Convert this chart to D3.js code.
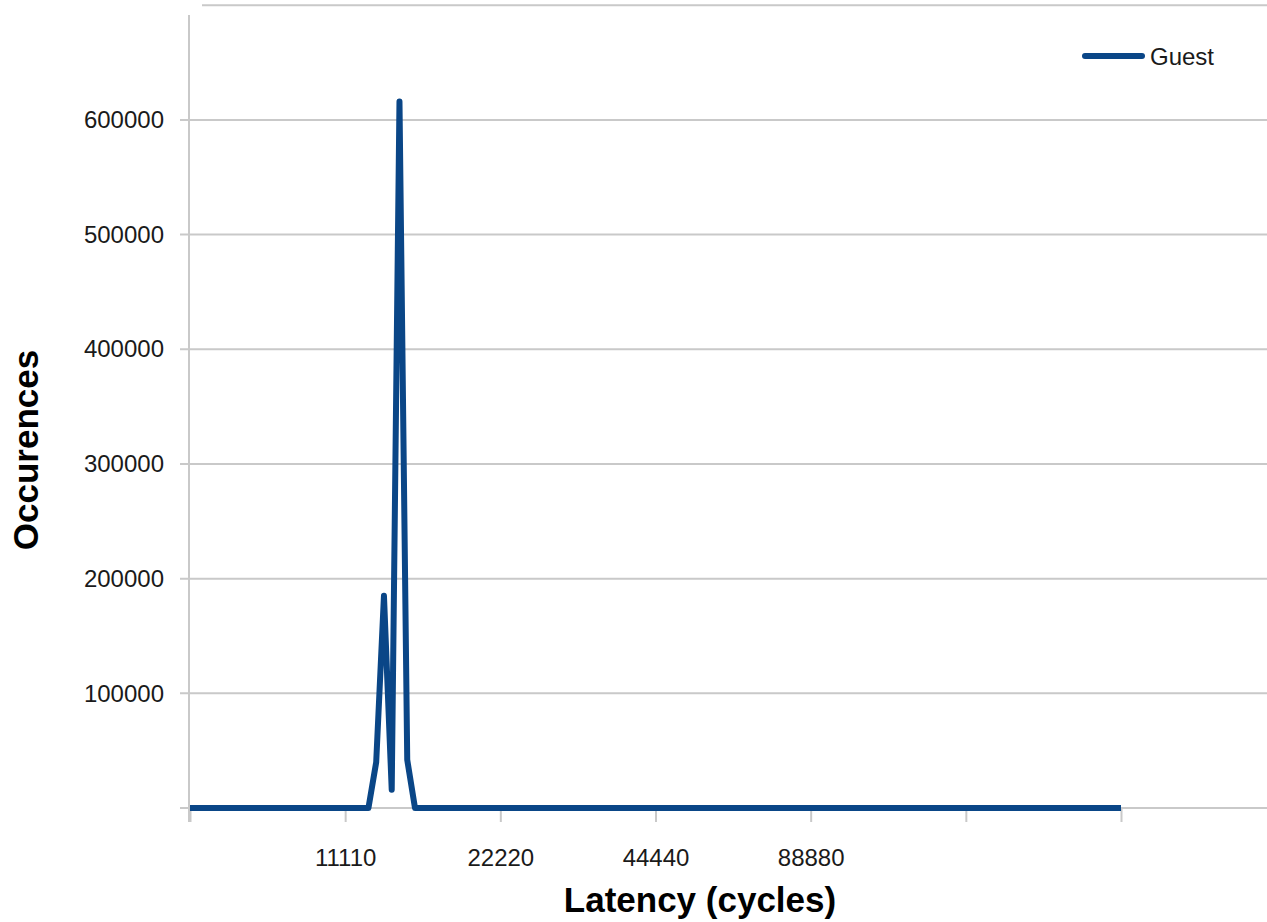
<!DOCTYPE html>
<html>
<head>
<meta charset="utf-8">
<script src="https://cdn.jsdelivr.net/npm/d3@7/dist/d3.min.js"></script>
<style>
  html, body { margin: 0; padding: 0; background: #fff; }
  svg { display: block; font-family: "Liberation Sans", Arial, sans-serif; }
</style>
</head>
<body>
<svg id="chart" width="1267" height="922"></svg>
<script>
// Latency histogram: one point per bucket, 121 buckets
const bucketIndex = d3.range(0, 121);
const guestPeak = { 24: 40000, 25: 185000, 26: 16000, 27: 616000, 28: 42000 };
const guestCounts = bucketIndex.map(i => guestPeak[i] || 0);

const xTickValues = [0, 20, 40, 60, 80, 100, 120];
const xTickLabels = ["", "11110", "22220", "44440", "88880", "", ""];
const yTickValues = [0, 100000, 200000, 300000, 400000, 500000, 600000, 700000];
const yTickLabels = ["", "100000", "200000", "300000", "400000", "500000", "600000", ""];

const seriesName = "Guest";
const seriesColor = "#0a4687";
const gridColor = "#c9c9c9";
const textColor = "#1a1a1a";

const svg = d3.select("#chart");
const W = 1267;

const x = d3.scaleLinear().domain([0, 120]).range([190, 1121]);
const y = d3.scaleLinear().domain([0, 700000]).range([808, 5.2]);

// horizontal gridlines
svg.append("g")
  .selectAll("line")
  .data(yTickValues)
  .join("line")
  .attr("x1", d => d === 700000 ? 202 : 180)
  .attr("x2", W)
  .attr("y1", d => y(d))
  .attr("y2", d => y(d))
  .attr("stroke", gridColor)
  .attr("stroke-width", 2);

// vertical axis line
svg.append("line")
  .attr("x1", 189).attr("x2", 189)
  .attr("y1", 15).attr("y2", 822)
  .attr("stroke", gridColor)
  .attr("stroke-width", 2);

// y axis labels
const yAxis = d3.axisLeft(y)
  .tickValues(yTickValues)
  .tickSize(0)
  .tickPadding(0)
  .tickFormat((d, i) => yTickLabels[i]);
const gy = svg.append("g").attr("transform", "translate(164,0)").call(yAxis);
gy.select(".domain").remove();
gy.selectAll("text")
  .attr("font-size", 24)
  .attr("font-family", "'Liberation Sans', Arial, sans-serif")
  .attr("fill", textColor);

// x axis ticks and labels
const xAxis = d3.axisBottom(x)
  .tickValues(xTickValues)
  .tickSize(14)
  .tickPadding(27)
  .tickFormat((d, i) => xTickLabels[i]);
const gx = svg.append("g").attr("transform", "translate(0,808)").call(xAxis);
gx.select(".domain").remove();
gx.selectAll(".tick line").attr("stroke", gridColor).attr("stroke-width", 2);
gx.selectAll("text")
  .attr("font-size", 24)
  .attr("font-family", "'Liberation Sans', Arial, sans-serif")
  .attr("fill", textColor);

// series line
const line = d3.line()
  .x((d, i) => x(bucketIndex[i]))
  .y(d => y(d));
svg.append("path")
  .datum(guestCounts)
  .attr("d", line)
  .attr("fill", "none")
  .attr("stroke", seriesColor)
  .attr("stroke-width", 6)
  .attr("stroke-linejoin", "round")
  .attr("stroke-linecap", "butt");

// axis titles
svg.append("text")
  .attr("x", 700).attr("y", 912)
  .attr("text-anchor", "middle")
  .attr("font-size", 35).attr("font-weight", "bold")
  .attr("fill", "#000")
  .text("Latency (cycles)");

svg.append("text")
  .attr("transform", "translate(38,450) rotate(-90)")
  .attr("text-anchor", "middle")
  .attr("font-size", 35).attr("font-weight", "bold")
  .attr("fill", "#000")
  .text("Occurences");

// legend
const legend = svg.append("g");
legend.append("line")
  .attr("x1", 1085).attr("x2", 1142)
  .attr("y1", 56).attr("y2", 56)
  .attr("stroke", seriesColor)
  .attr("stroke-width", 6)
  .attr("stroke-linecap", "round");
legend.append("text")
  .attr("x", 1150).attr("y", 65)
  .attr("font-size", 24)
  .attr("fill", textColor)
  .text(seriesName);
</script>
</body>
</html>
